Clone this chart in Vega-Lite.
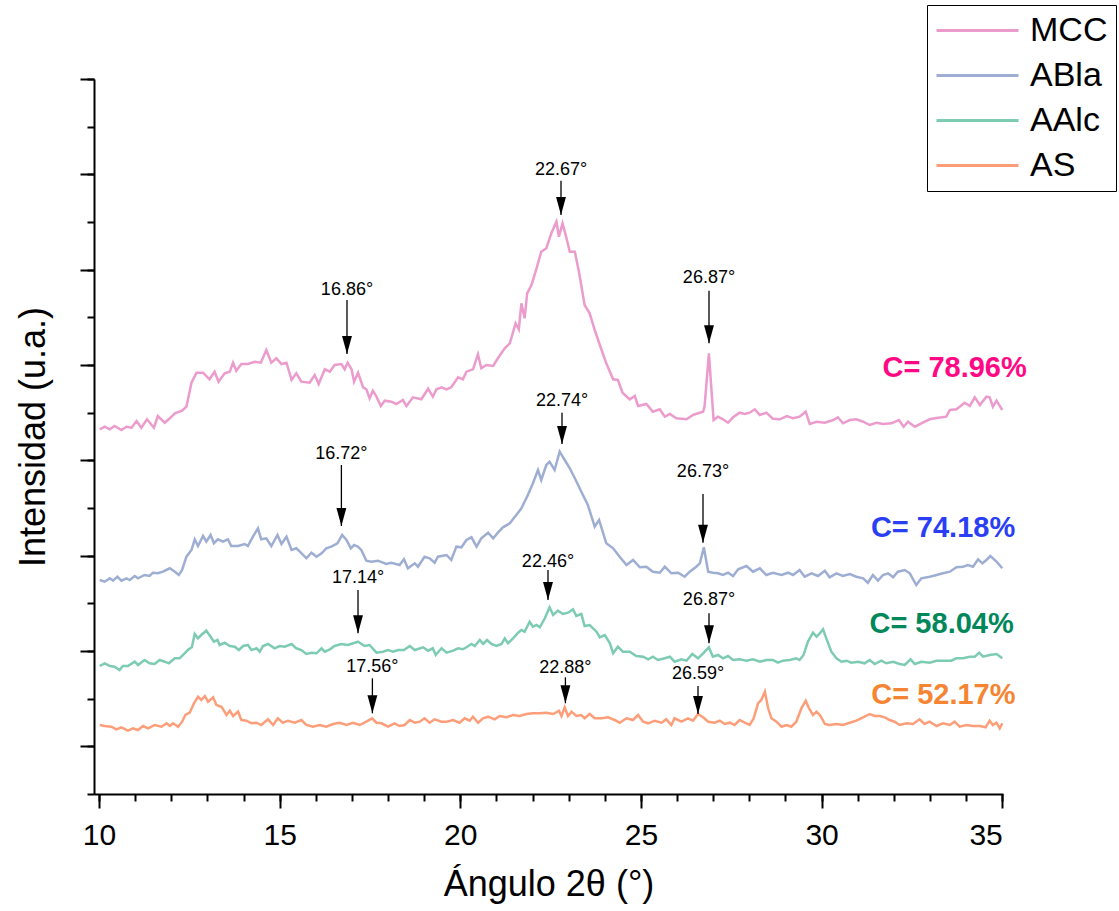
{
  "$schema": "https://vega.github.io/schema/vega-lite/v6.json",
  "width": 909,
  "height": 715,
  "autosize": {"type": "none"},
  "padding": {"left": 94, "top": 79, "right": 116, "bottom": 117},
  "config": {
    "view": {"stroke": null},
    "font": "Liberation Sans",
    "axis": {"grid": false, "domainColor": "black", "tickColor": "black", "labelColor": "black", "titleColor": "black", "labelFont": "Liberation Sans", "titleFont": "Liberation Sans"}
  },
  "datasets": {
    "lines": [
      {"s":"MCC","x":10.02,"y":364.7},{"s":"MCC","x":10.16,"y":367.3},{"s":"MCC","x":10.30,"y":364.7},{"s":"MCC","x":10.43,"y":368},{"s":"MCC","x":10.62,"y":364},{"s":"MCC","x":10.76,"y":367.3},{"s":"MCC","x":10.90,"y":366.3},{"s":"MCC","x":11.04,"y":373},{"s":"MCC","x":11.17,"y":366.3},{"s":"MCC","x":11.33,"y":374.7},{"s":"MCC","x":11.52,"y":366.3},{"s":"MCC","x":11.63,"y":378},{"s":"MCC","x":11.82,"y":371.3},{"s":"MCC","x":11.96,"y":375.7},{"s":"MCC","x":12.10,"y":380.7},{"s":"MCC","x":12.30,"y":383.3},{"s":"MCC","x":12.42,"y":387.3},{"s":"MCC","x":12.56,"y":411.3},{"s":"MCC","x":12.70,"y":421.3},{"s":"MCC","x":12.88,"y":421.3},{"s":"MCC","x":13.06,"y":414.7},{"s":"MCC","x":13.20,"y":422.3},{"s":"MCC","x":13.31,"y":412.3},{"s":"MCC","x":13.48,"y":420.7},{"s":"MCC","x":13.62,"y":422.3},{"s":"MCC","x":13.71,"y":431.3},{"s":"MCC","x":13.80,"y":423.3},{"s":"MCC","x":13.94,"y":430},{"s":"MCC","x":14.12,"y":430},{"s":"MCC","x":14.31,"y":432.3},{"s":"MCC","x":14.48,"y":431.3},{"s":"MCC","x":14.63,"y":444},{"s":"MCC","x":14.77,"y":431.3},{"s":"MCC","x":14.91,"y":435.7},{"s":"MCC","x":15.05,"y":430},{"s":"MCC","x":15.19,"y":431.3},{"s":"MCC","x":15.33,"y":414},{"s":"MCC","x":15.46,"y":420.7},{"s":"MCC","x":15.60,"y":412.3},{"s":"MCC","x":15.83,"y":411.3},{"s":"MCC","x":15.97,"y":419},{"s":"MCC","x":16.08,"y":410},{"s":"MCC","x":16.25,"y":424.7},{"s":"MCC","x":16.39,"y":422.3},{"s":"MCC","x":16.52,"y":429},{"s":"MCC","x":16.71,"y":430},{"s":"MCC","x":16.80,"y":424.7},{"s":"MCC","x":16.88,"y":431.3},{"s":"MCC","x":16.99,"y":424.7},{"s":"MCC","x":17.06,"y":412.3},{"s":"MCC","x":17.17,"y":421.3},{"s":"MCC","x":17.31,"y":406.7},{"s":"MCC","x":17.40,"y":404.7},{"s":"MCC","x":17.49,"y":395.7},{"s":"MCC","x":17.58,"y":403.3},{"s":"MCC","x":17.68,"y":397.3},{"s":"MCC","x":17.80,"y":388},{"s":"MCC","x":17.91,"y":393.3},{"s":"MCC","x":18.09,"y":392.3},{"s":"MCC","x":18.23,"y":390},{"s":"MCC","x":18.41,"y":394},{"s":"MCC","x":18.51,"y":388},{"s":"MCC","x":18.69,"y":396.7},{"s":"MCC","x":18.92,"y":394.7},{"s":"MCC","x":19.11,"y":405.3},{"s":"MCC","x":19.24,"y":397.3},{"s":"MCC","x":19.34,"y":404.7},{"s":"MCC","x":19.48,"y":406.7},{"s":"MCC","x":19.62,"y":404.7},{"s":"MCC","x":19.75,"y":406.7},{"s":"MCC","x":19.94,"y":416.7},{"s":"MCC","x":20.07,"y":414.7},{"s":"MCC","x":20.17,"y":422.3},{"s":"MCC","x":20.35,"y":424.7},{"s":"MCC","x":20.49,"y":439.7},{"s":"MCC","x":20.58,"y":425.7},{"s":"MCC","x":20.72,"y":429},{"s":"MCC","x":20.91,"y":428},{"s":"MCC","x":21.04,"y":435.7},{"s":"MCC","x":21.23,"y":445.7},{"s":"MCC","x":21.37,"y":450.7},{"s":"MCC","x":21.53,"y":470.7},{"s":"MCC","x":21.62,"y":464.7},{"s":"MCC","x":21.69,"y":490.7},{"s":"MCC","x":21.78,"y":475.7},{"s":"MCC","x":21.85,"y":500.7},{"s":"MCC","x":21.97,"y":509},{"s":"MCC","x":22.11,"y":525.7},{"s":"MCC","x":22.24,"y":542.3},{"s":"MCC","x":22.38,"y":545.7},{"s":"MCC","x":22.52,"y":560.7},{"s":"MCC","x":22.66,"y":572.3},{"s":"MCC","x":22.73,"y":557.3},{"s":"MCC","x":22.83,"y":570.7},{"s":"MCC","x":22.94,"y":555.7},{"s":"MCC","x":23.03,"y":542.3},{"s":"MCC","x":23.17,"y":542.3},{"s":"MCC","x":23.30,"y":519},{"s":"MCC","x":23.44,"y":489},{"s":"MCC","x":23.58,"y":480.7},{"s":"MCC","x":23.72,"y":464},{"s":"MCC","x":23.91,"y":444},{"s":"MCC","x":24.04,"y":430.7},{"s":"MCC","x":24.23,"y":414.7},{"s":"MCC","x":24.36,"y":414},{"s":"MCC","x":24.49,"y":401.3},{"s":"MCC","x":24.69,"y":394.7},{"s":"MCC","x":24.83,"y":398},{"s":"MCC","x":24.92,"y":388},{"s":"MCC","x":25.15,"y":390},{"s":"MCC","x":25.33,"y":382.3},{"s":"MCC","x":25.52,"y":384.7},{"s":"MCC","x":25.66,"y":377.3},{"s":"MCC","x":25.80,"y":380},{"s":"MCC","x":25.98,"y":375.7},{"s":"MCC","x":26.26,"y":374.7},{"s":"MCC","x":26.44,"y":379},{"s":"MCC","x":26.58,"y":380.7},{"s":"MCC","x":26.72,"y":382.3},{"s":"MCC","x":26.76,"y":387.3},{"s":"MCC","x":26.88,"y":440.7},{"s":"MCC","x":27.01,"y":374},{"s":"MCC","x":27.13,"y":377.3},{"s":"MCC","x":27.27,"y":374.7},{"s":"MCC","x":27.41,"y":371.3},{"s":"MCC","x":27.55,"y":376.7},{"s":"MCC","x":27.73,"y":381.3},{"s":"MCC","x":27.87,"y":380},{"s":"MCC","x":28.01,"y":381.3},{"s":"MCC","x":28.15,"y":384.7},{"s":"MCC","x":28.29,"y":379},{"s":"MCC","x":28.47,"y":381.3},{"s":"MCC","x":28.65,"y":375.3},{"s":"MCC","x":28.84,"y":374.7},{"s":"MCC","x":29.04,"y":378},{"s":"MCC","x":29.21,"y":375.7},{"s":"MCC","x":29.39,"y":377.3},{"s":"MCC","x":29.56,"y":382.3},{"s":"MCC","x":29.67,"y":370},{"s":"MCC","x":29.86,"y":372.3},{"s":"MCC","x":30.09,"y":371.3},{"s":"MCC","x":30.32,"y":374},{"s":"MCC","x":30.45,"y":376.7},{"s":"MCC","x":30.59,"y":370.7},{"s":"MCC","x":30.78,"y":374},{"s":"MCC","x":30.96,"y":374.7},{"s":"MCC","x":31.15,"y":372.3},{"s":"MCC","x":31.33,"y":369},{"s":"MCC","x":31.52,"y":371.3},{"s":"MCC","x":31.70,"y":370},{"s":"MCC","x":31.93,"y":370.7},{"s":"MCC","x":32.14,"y":374},{"s":"MCC","x":32.27,"y":367.3},{"s":"MCC","x":32.39,"y":372.3},{"s":"MCC","x":32.58,"y":367.3},{"s":"MCC","x":32.76,"y":370.7},{"s":"MCC","x":32.99,"y":374.7},{"s":"MCC","x":33.18,"y":376},{"s":"MCC","x":33.45,"y":377.3},{"s":"MCC","x":33.55,"y":384},{"s":"MCC","x":33.73,"y":384.7},{"s":"MCC","x":33.96,"y":391.3},{"s":"MCC","x":34.10,"y":388},{"s":"MCC","x":34.24,"y":396.7},{"s":"MCC","x":34.38,"y":389},{"s":"MCC","x":34.56,"y":397.3},{"s":"MCC","x":34.65,"y":396.7},{"s":"MCC","x":34.74,"y":387.3},{"s":"MCC","x":34.84,"y":393.3},{"s":"MCC","x":35.00,"y":384},
      {"s":"ABla","x":10.02,"y":214},{"s":"ABla","x":10.16,"y":212.3},{"s":"ABla","x":10.30,"y":215.7},{"s":"ABla","x":10.39,"y":213.3},{"s":"ABla","x":10.51,"y":217.3},{"s":"ABla","x":10.62,"y":213.3},{"s":"ABla","x":10.76,"y":215.7},{"s":"ABla","x":10.85,"y":214},{"s":"ABla","x":10.99,"y":218},{"s":"ABla","x":11.08,"y":215.7},{"s":"ABla","x":11.26,"y":219},{"s":"ABla","x":11.40,"y":218},{"s":"ABla","x":11.49,"y":221.3},{"s":"ABla","x":11.63,"y":220.7},{"s":"ABla","x":11.77,"y":222.3},{"s":"ABla","x":11.96,"y":225.7},{"s":"ABla","x":12.10,"y":222.3},{"s":"ABla","x":12.21,"y":219},{"s":"ABla","x":12.30,"y":224},{"s":"ABla","x":12.42,"y":237.3},{"s":"ABla","x":12.56,"y":244},{"s":"ABla","x":12.65,"y":254.7},{"s":"ABla","x":12.74,"y":248},{"s":"ABla","x":12.88,"y":258},{"s":"ABla","x":12.97,"y":252.3},{"s":"ABla","x":13.09,"y":259},{"s":"ABla","x":13.18,"y":250.7},{"s":"ABla","x":13.29,"y":254.7},{"s":"ABla","x":13.43,"y":252.3},{"s":"ABla","x":13.57,"y":254.7},{"s":"ABla","x":13.66,"y":248},{"s":"ABla","x":13.85,"y":248},{"s":"ABla","x":14.03,"y":250},{"s":"ABla","x":14.12,"y":248},{"s":"ABla","x":14.26,"y":257.3},{"s":"ABla","x":14.40,"y":265.7},{"s":"ABla","x":14.49,"y":254.7},{"s":"ABla","x":14.63,"y":255.7},{"s":"ABla","x":14.77,"y":248},{"s":"ABla","x":14.94,"y":259},{"s":"ABla","x":15.05,"y":250},{"s":"ABla","x":15.19,"y":257.3},{"s":"ABla","x":15.33,"y":244},{"s":"ABla","x":15.46,"y":245.7},{"s":"ABla","x":15.56,"y":242.3},{"s":"ABla","x":15.74,"y":235.7},{"s":"ABla","x":15.88,"y":241.3},{"s":"ABla","x":16.02,"y":237.3},{"s":"ABla","x":16.16,"y":240.7},{"s":"ABla","x":16.29,"y":245.7},{"s":"ABla","x":16.43,"y":247.3},{"s":"ABla","x":16.60,"y":250.7},{"s":"ABla","x":16.73,"y":259},{"s":"ABla","x":16.85,"y":254},{"s":"ABla","x":16.97,"y":245.7},{"s":"ABla","x":17.06,"y":249},{"s":"ABla","x":17.17,"y":247.3},{"s":"ABla","x":17.26,"y":244},{"s":"ABla","x":17.40,"y":233.3},{"s":"ABla","x":17.54,"y":232.3},{"s":"ABla","x":17.72,"y":233.3},{"s":"ABla","x":17.95,"y":230},{"s":"ABla","x":18.09,"y":231.3},{"s":"ABla","x":18.32,"y":229},{"s":"ABla","x":18.44,"y":234.7},{"s":"ABla","x":18.55,"y":225.7},{"s":"ABla","x":18.74,"y":230.7},{"s":"ABla","x":18.83,"y":227.3},{"s":"ABla","x":19.01,"y":237.3},{"s":"ABla","x":19.15,"y":235.7},{"s":"ABla","x":19.29,"y":231.3},{"s":"ABla","x":19.38,"y":237.3},{"s":"ABla","x":19.62,"y":239},{"s":"ABla","x":19.75,"y":234},{"s":"ABla","x":19.89,"y":247.3},{"s":"ABla","x":20.03,"y":246.7},{"s":"ABla","x":20.17,"y":254},{"s":"ABla","x":20.31,"y":256.7},{"s":"ABla","x":20.45,"y":247.3},{"s":"ABla","x":20.58,"y":255.7},{"s":"ABla","x":20.77,"y":261.3},{"s":"ABla","x":20.91,"y":255.7},{"s":"ABla","x":21.04,"y":261.3},{"s":"ABla","x":21.18,"y":266.7},{"s":"ABla","x":21.37,"y":270.7},{"s":"ABla","x":21.55,"y":279},{"s":"ABla","x":21.69,"y":285.7},{"s":"ABla","x":21.87,"y":299},{"s":"ABla","x":22.01,"y":310.7},{"s":"ABla","x":22.15,"y":324},{"s":"ABla","x":22.24,"y":314},{"s":"ABla","x":22.38,"y":329},{"s":"ABla","x":22.47,"y":332.3},{"s":"ABla","x":22.61,"y":324},{"s":"ABla","x":22.75,"y":342.3},{"s":"ABla","x":22.89,"y":334},{"s":"ABla","x":23.03,"y":325.7},{"s":"ABla","x":23.17,"y":315.7},{"s":"ABla","x":23.35,"y":302.3},{"s":"ABla","x":23.53,"y":289},{"s":"ABla","x":23.72,"y":267.3},{"s":"ABla","x":23.84,"y":274},{"s":"ABla","x":24.04,"y":250.7},{"s":"ABla","x":24.23,"y":245.7},{"s":"ABla","x":24.41,"y":237.3},{"s":"ABla","x":24.60,"y":229},{"s":"ABla","x":24.78,"y":234},{"s":"ABla","x":24.97,"y":226.7},{"s":"ABla","x":25.15,"y":227.3},{"s":"ABla","x":25.33,"y":222.3},{"s":"ABla","x":25.52,"y":221.3},{"s":"ABla","x":25.66,"y":227.3},{"s":"ABla","x":25.84,"y":220.7},{"s":"ABla","x":26.03,"y":221.3},{"s":"ABla","x":26.21,"y":217.3},{"s":"ABla","x":26.35,"y":222.3},{"s":"ABla","x":26.53,"y":227.3},{"s":"ABla","x":26.63,"y":230.7},{"s":"ABla","x":26.74,"y":246.7},{"s":"ABla","x":26.86,"y":222.3},{"s":"ABla","x":26.99,"y":221.3},{"s":"ABla","x":27.13,"y":220.7},{"s":"ABla","x":27.27,"y":219},{"s":"ABla","x":27.41,"y":221.3},{"s":"ABla","x":27.55,"y":218},{"s":"ABla","x":27.69,"y":224.7},{"s":"ABla","x":27.92,"y":228},{"s":"ABla","x":28.10,"y":222.3},{"s":"ABla","x":28.29,"y":225.7},{"s":"ABla","x":28.47,"y":219},{"s":"ABla","x":28.65,"y":221.3},{"s":"ABla","x":28.89,"y":219},{"s":"ABla","x":29.07,"y":221.3},{"s":"ABla","x":29.21,"y":219},{"s":"ABla","x":29.39,"y":224},{"s":"ABla","x":29.53,"y":217.3},{"s":"ABla","x":29.72,"y":220.7},{"s":"ABla","x":29.90,"y":218},{"s":"ABla","x":30.09,"y":223.3},{"s":"ABla","x":30.22,"y":216.7},{"s":"ABla","x":30.41,"y":220.7},{"s":"ABla","x":30.59,"y":218},{"s":"ABla","x":30.78,"y":220},{"s":"ABla","x":30.96,"y":217.3},{"s":"ABla","x":31.15,"y":215.7},{"s":"ABla","x":31.28,"y":211.3},{"s":"ABla","x":31.42,"y":219},{"s":"ABla","x":31.56,"y":213.3},{"s":"ABla","x":31.70,"y":219},{"s":"ABla","x":31.84,"y":220.7},{"s":"ABla","x":31.98,"y":216.7},{"s":"ABla","x":32.11,"y":222.3},{"s":"ABla","x":32.30,"y":224},{"s":"ABla","x":32.44,"y":220.7},{"s":"ABla","x":32.62,"y":209},{"s":"ABla","x":32.76,"y":215.7},{"s":"ABla","x":32.99,"y":217.3},{"s":"ABla","x":33.18,"y":219},{"s":"ABla","x":33.36,"y":220.7},{"s":"ABla","x":33.55,"y":222.3},{"s":"ABla","x":33.73,"y":226.7},{"s":"ABla","x":33.91,"y":227.3},{"s":"ABla","x":34.05,"y":229},{"s":"ABla","x":34.19,"y":227.3},{"s":"ABla","x":34.33,"y":234.7},{"s":"ABla","x":34.45,"y":230.7},{"s":"ABla","x":34.56,"y":234},{"s":"ABla","x":34.67,"y":238},{"s":"ABla","x":34.84,"y":232.3},{"s":"ABla","x":35.00,"y":225.7},
      {"s":"AAlc","x":10.02,"y":128},{"s":"AAlc","x":10.16,"y":130.7},{"s":"AAlc","x":10.30,"y":128},{"s":"AAlc","x":10.43,"y":127.3},{"s":"AAlc","x":10.57,"y":124},{"s":"AAlc","x":10.66,"y":128},{"s":"AAlc","x":10.80,"y":128},{"s":"AAlc","x":10.99,"y":132.3},{"s":"AAlc","x":11.08,"y":129},{"s":"AAlc","x":11.26,"y":134},{"s":"AAlc","x":11.40,"y":130.7},{"s":"AAlc","x":11.54,"y":130},{"s":"AAlc","x":11.68,"y":134},{"s":"AAlc","x":11.82,"y":132.3},{"s":"AAlc","x":11.93,"y":130.7},{"s":"AAlc","x":12.10,"y":135.7},{"s":"AAlc","x":12.23,"y":135.7},{"s":"AAlc","x":12.37,"y":140.7},{"s":"AAlc","x":12.48,"y":144.7},{"s":"AAlc","x":12.57,"y":146.7},{"s":"AAlc","x":12.65,"y":160},{"s":"AAlc","x":12.74,"y":155.7},{"s":"AAlc","x":12.83,"y":159},{"s":"AAlc","x":12.97,"y":163.3},{"s":"AAlc","x":13.09,"y":157.3},{"s":"AAlc","x":13.18,"y":152.3},{"s":"AAlc","x":13.28,"y":154},{"s":"AAlc","x":13.34,"y":149},{"s":"AAlc","x":13.48,"y":151.3},{"s":"AAlc","x":13.62,"y":148},{"s":"AAlc","x":13.76,"y":147.3},{"s":"AAlc","x":13.87,"y":144},{"s":"AAlc","x":13.99,"y":148},{"s":"AAlc","x":14.12,"y":149},{"s":"AAlc","x":14.22,"y":144},{"s":"AAlc","x":14.36,"y":145.7},{"s":"AAlc","x":14.45,"y":142.3},{"s":"AAlc","x":14.54,"y":148},{"s":"AAlc","x":14.68,"y":150},{"s":"AAlc","x":14.86,"y":145.7},{"s":"AAlc","x":15.00,"y":148},{"s":"AAlc","x":15.14,"y":147.3},{"s":"AAlc","x":15.33,"y":150},{"s":"AAlc","x":15.46,"y":145.7},{"s":"AAlc","x":15.60,"y":144},{"s":"AAlc","x":15.74,"y":140},{"s":"AAlc","x":15.88,"y":141.3},{"s":"AAlc","x":16.02,"y":140.7},{"s":"AAlc","x":16.16,"y":145.7},{"s":"AAlc","x":16.25,"y":142.3},{"s":"AAlc","x":16.39,"y":144.7},{"s":"AAlc","x":16.52,"y":148},{"s":"AAlc","x":16.71,"y":150},{"s":"AAlc","x":16.89,"y":149},{"s":"AAlc","x":17.17,"y":152.3},{"s":"AAlc","x":17.35,"y":148},{"s":"AAlc","x":17.49,"y":149},{"s":"AAlc","x":17.68,"y":141.3},{"s":"AAlc","x":17.86,"y":142.3},{"s":"AAlc","x":18.00,"y":144},{"s":"AAlc","x":18.14,"y":142.3},{"s":"AAlc","x":18.28,"y":144},{"s":"AAlc","x":18.44,"y":144},{"s":"AAlc","x":18.60,"y":148},{"s":"AAlc","x":18.74,"y":144},{"s":"AAlc","x":18.97,"y":146.7},{"s":"AAlc","x":19.11,"y":143.3},{"s":"AAlc","x":19.24,"y":145.7},{"s":"AAlc","x":19.32,"y":139},{"s":"AAlc","x":19.48,"y":145.7},{"s":"AAlc","x":19.62,"y":141.3},{"s":"AAlc","x":19.80,"y":143.3},{"s":"AAlc","x":19.94,"y":145.7},{"s":"AAlc","x":20.07,"y":144.7},{"s":"AAlc","x":20.17,"y":146.7},{"s":"AAlc","x":20.31,"y":150},{"s":"AAlc","x":20.40,"y":148},{"s":"AAlc","x":20.54,"y":154},{"s":"AAlc","x":20.63,"y":150},{"s":"AAlc","x":20.74,"y":154},{"s":"AAlc","x":20.86,"y":150},{"s":"AAlc","x":21.00,"y":148},{"s":"AAlc","x":21.14,"y":150},{"s":"AAlc","x":21.23,"y":155.7},{"s":"AAlc","x":21.32,"y":150.7},{"s":"AAlc","x":21.46,"y":155.7},{"s":"AAlc","x":21.60,"y":161.3},{"s":"AAlc","x":21.69,"y":164},{"s":"AAlc","x":21.78,"y":162.3},{"s":"AAlc","x":21.92,"y":172.3},{"s":"AAlc","x":22.01,"y":167.3},{"s":"AAlc","x":22.11,"y":169},{"s":"AAlc","x":22.20,"y":166.7},{"s":"AAlc","x":22.34,"y":175.7},{"s":"AAlc","x":22.47,"y":186.7},{"s":"AAlc","x":22.57,"y":179},{"s":"AAlc","x":22.70,"y":183.3},{"s":"AAlc","x":22.84,"y":180},{"s":"AAlc","x":22.98,"y":181.3},{"s":"AAlc","x":23.12,"y":184.7},{"s":"AAlc","x":23.21,"y":178},{"s":"AAlc","x":23.35,"y":180},{"s":"AAlc","x":23.44,"y":168},{"s":"AAlc","x":23.58,"y":169},{"s":"AAlc","x":23.77,"y":162.3},{"s":"AAlc","x":23.86,"y":156.7},{"s":"AAlc","x":24.00,"y":159},{"s":"AAlc","x":24.14,"y":150.7},{"s":"AAlc","x":24.23,"y":140.7},{"s":"AAlc","x":24.36,"y":147.3},{"s":"AAlc","x":24.50,"y":142.3},{"s":"AAlc","x":24.69,"y":142.3},{"s":"AAlc","x":24.87,"y":138},{"s":"AAlc","x":25.06,"y":137.3},{"s":"AAlc","x":25.20,"y":134.7},{"s":"AAlc","x":25.33,"y":137.3},{"s":"AAlc","x":25.47,"y":134},{"s":"AAlc","x":25.66,"y":135.7},{"s":"AAlc","x":25.80,"y":137.3},{"s":"AAlc","x":25.93,"y":132.3},{"s":"AAlc","x":26.12,"y":134.7},{"s":"AAlc","x":26.26,"y":133.3},{"s":"AAlc","x":26.42,"y":140},{"s":"AAlc","x":26.58,"y":135.7},{"s":"AAlc","x":26.72,"y":140.7},{"s":"AAlc","x":26.88,"y":146.7},{"s":"AAlc","x":26.99,"y":137.3},{"s":"AAlc","x":27.13,"y":139},{"s":"AAlc","x":27.27,"y":135.7},{"s":"AAlc","x":27.41,"y":138},{"s":"AAlc","x":27.55,"y":134},{"s":"AAlc","x":27.73,"y":134.7},{"s":"AAlc","x":27.92,"y":133.3},{"s":"AAlc","x":28.10,"y":134.7},{"s":"AAlc","x":28.29,"y":132.3},{"s":"AAlc","x":28.47,"y":134},{"s":"AAlc","x":28.65,"y":134},{"s":"AAlc","x":28.79,"y":131.3},{"s":"AAlc","x":28.93,"y":133.3},{"s":"AAlc","x":29.12,"y":134},{"s":"AAlc","x":29.30,"y":135.7},{"s":"AAlc","x":29.39,"y":134},{"s":"AAlc","x":29.50,"y":139},{"s":"AAlc","x":29.62,"y":152.3},{"s":"AAlc","x":29.76,"y":161.3},{"s":"AAlc","x":29.86,"y":157.3},{"s":"AAlc","x":29.95,"y":160.7},{"s":"AAlc","x":30.04,"y":164.7},{"s":"AAlc","x":30.13,"y":155.7},{"s":"AAlc","x":30.27,"y":142.3},{"s":"AAlc","x":30.41,"y":135.7},{"s":"AAlc","x":30.55,"y":132.3},{"s":"AAlc","x":30.69,"y":133.3},{"s":"AAlc","x":30.82,"y":131.3},{"s":"AAlc","x":31.01,"y":132.3},{"s":"AAlc","x":31.19,"y":130.7},{"s":"AAlc","x":31.33,"y":134},{"s":"AAlc","x":31.47,"y":130},{"s":"AAlc","x":31.65,"y":133.3},{"s":"AAlc","x":31.79,"y":130.7},{"s":"AAlc","x":31.98,"y":132.3},{"s":"AAlc","x":32.16,"y":130},{"s":"AAlc","x":32.30,"y":129},{"s":"AAlc","x":32.46,"y":134.7},{"s":"AAlc","x":32.58,"y":130},{"s":"AAlc","x":32.76,"y":132.3},{"s":"AAlc","x":32.99,"y":131.3},{"s":"AAlc","x":33.18,"y":133.3},{"s":"AAlc","x":33.41,"y":133.3},{"s":"AAlc","x":33.59,"y":133.3},{"s":"AAlc","x":33.73,"y":135.7},{"s":"AAlc","x":33.91,"y":135.7},{"s":"AAlc","x":34.10,"y":137.3},{"s":"AAlc","x":34.24,"y":137.3},{"s":"AAlc","x":34.36,"y":141.3},{"s":"AAlc","x":34.47,"y":137.3},{"s":"AAlc","x":34.65,"y":139},{"s":"AAlc","x":34.84,"y":140},{"s":"AAlc","x":35.00,"y":135.7},
      {"s":"AS","x":10.02,"y":69},{"s":"AS","x":10.16,"y":68},{"s":"AS","x":10.34,"y":67.3},{"s":"AS","x":10.48,"y":64.7},{"s":"AS","x":10.62,"y":66.7},{"s":"AS","x":10.80,"y":63.3},{"s":"AS","x":10.94,"y":65.7},{"s":"AS","x":11.08,"y":64},{"s":"AS","x":11.22,"y":68},{"s":"AS","x":11.36,"y":65.7},{"s":"AS","x":11.54,"y":69},{"s":"AS","x":11.73,"y":67.3},{"s":"AS","x":11.87,"y":70.7},{"s":"AS","x":11.96,"y":68},{"s":"AS","x":12.05,"y":70.7},{"s":"AS","x":12.19,"y":67.3},{"s":"AS","x":12.30,"y":72.3},{"s":"AS","x":12.39,"y":79},{"s":"AS","x":12.51,"y":81.3},{"s":"AS","x":12.63,"y":90.7},{"s":"AS","x":12.74,"y":97.3},{"s":"AS","x":12.83,"y":94},{"s":"AS","x":12.93,"y":98},{"s":"AS","x":13.02,"y":92.3},{"s":"AS","x":13.16,"y":96.7},{"s":"AS","x":13.25,"y":89},{"s":"AS","x":13.39,"y":87.3},{"s":"AS","x":13.53,"y":79},{"s":"AS","x":13.62,"y":83.3},{"s":"AS","x":13.71,"y":78},{"s":"AS","x":13.85,"y":82.3},{"s":"AS","x":13.94,"y":74},{"s":"AS","x":14.08,"y":73.3},{"s":"AS","x":14.22,"y":70.7},{"s":"AS","x":14.36,"y":71.3},{"s":"AS","x":14.49,"y":69},{"s":"AS","x":14.68,"y":74.7},{"s":"AS","x":14.82,"y":69},{"s":"AS","x":14.95,"y":75.7},{"s":"AS","x":15.09,"y":71.3},{"s":"AS","x":15.23,"y":73.3},{"s":"AS","x":15.42,"y":71.3},{"s":"AS","x":15.60,"y":74},{"s":"AS","x":15.74,"y":69},{"s":"AS","x":15.92,"y":67.3},{"s":"AS","x":16.11,"y":69},{"s":"AS","x":16.29,"y":67.3},{"s":"AS","x":16.48,"y":70},{"s":"AS","x":16.66,"y":71.3},{"s":"AS","x":16.85,"y":69},{"s":"AS","x":17.03,"y":71.3},{"s":"AS","x":17.22,"y":69},{"s":"AS","x":17.40,"y":72.3},{"s":"AS","x":17.56,"y":75.7},{"s":"AS","x":17.68,"y":71.3},{"s":"AS","x":17.82,"y":70.7},{"s":"AS","x":18.00,"y":67.3},{"s":"AS","x":18.18,"y":70.7},{"s":"AS","x":18.32,"y":68},{"s":"AS","x":18.46,"y":69},{"s":"AS","x":18.60,"y":74},{"s":"AS","x":18.74,"y":71.3},{"s":"AS","x":18.88,"y":72.3},{"s":"AS","x":19.01,"y":75.7},{"s":"AS","x":19.15,"y":71.3},{"s":"AS","x":19.29,"y":74.7},{"s":"AS","x":19.48,"y":72.3},{"s":"AS","x":19.62,"y":72.3},{"s":"AS","x":19.80,"y":74},{"s":"AS","x":19.98,"y":71.3},{"s":"AS","x":20.12,"y":75.7},{"s":"AS","x":20.26,"y":73.3},{"s":"AS","x":20.35,"y":77.3},{"s":"AS","x":20.49,"y":71.3},{"s":"AS","x":20.63,"y":75.7},{"s":"AS","x":20.77,"y":77.3},{"s":"AS","x":20.95,"y":74.7},{"s":"AS","x":21.09,"y":78},{"s":"AS","x":21.28,"y":76.7},{"s":"AS","x":21.46,"y":79},{"s":"AS","x":21.64,"y":78},{"s":"AS","x":21.83,"y":80},{"s":"AS","x":22.01,"y":80.7},{"s":"AS","x":22.20,"y":80.7},{"s":"AS","x":22.38,"y":81.3},{"s":"AS","x":22.57,"y":80},{"s":"AS","x":22.73,"y":83.3},{"s":"AS","x":22.80,"y":78},{"s":"AS","x":22.89,"y":86.7},{"s":"AS","x":22.98,"y":78},{"s":"AS","x":23.08,"y":82.3},{"s":"AS","x":23.21,"y":78},{"s":"AS","x":23.35,"y":79},{"s":"AS","x":23.44,"y":75.7},{"s":"AS","x":23.58,"y":80},{"s":"AS","x":23.72,"y":75.7},{"s":"AS","x":23.91,"y":75.7},{"s":"AS","x":24.09,"y":76.7},{"s":"AS","x":24.27,"y":74},{"s":"AS","x":24.41,"y":71.3},{"s":"AS","x":24.60,"y":75.7},{"s":"AS","x":24.78,"y":74},{"s":"AS","x":24.92,"y":79},{"s":"AS","x":25.06,"y":72.3},{"s":"AS","x":25.20,"y":70.7},{"s":"AS","x":25.38,"y":73.3},{"s":"AS","x":25.57,"y":71.3},{"s":"AS","x":25.70,"y":74.7},{"s":"AS","x":25.84,"y":69},{"s":"AS","x":25.93,"y":75.7},{"s":"AS","x":26.12,"y":72.3},{"s":"AS","x":26.30,"y":75.7},{"s":"AS","x":26.44,"y":73.3},{"s":"AS","x":26.58,"y":80},{"s":"AS","x":26.72,"y":76.7},{"s":"AS","x":26.86,"y":72.3},{"s":"AS","x":27.04,"y":71.3},{"s":"AS","x":27.18,"y":73.3},{"s":"AS","x":27.32,"y":70},{"s":"AS","x":27.46,"y":71.3},{"s":"AS","x":27.59,"y":69},{"s":"AS","x":27.73,"y":74},{"s":"AS","x":27.87,"y":71.3},{"s":"AS","x":28.01,"y":69},{"s":"AS","x":28.12,"y":75.7},{"s":"AS","x":28.24,"y":90.7},{"s":"AS","x":28.33,"y":94},{"s":"AS","x":28.43,"y":102.3},{"s":"AS","x":28.52,"y":85.7},{"s":"AS","x":28.61,"y":75.7},{"s":"AS","x":28.75,"y":72.3},{"s":"AS","x":28.89,"y":67.3},{"s":"AS","x":29.03,"y":69},{"s":"AS","x":29.16,"y":67.3},{"s":"AS","x":29.30,"y":72.3},{"s":"AS","x":29.44,"y":85.7},{"s":"AS","x":29.56,"y":93.3},{"s":"AS","x":29.65,"y":85.7},{"s":"AS","x":29.76,"y":79},{"s":"AS","x":29.86,"y":82.3},{"s":"AS","x":29.97,"y":78},{"s":"AS","x":30.09,"y":70},{"s":"AS","x":30.22,"y":69},{"s":"AS","x":30.41,"y":70},{"s":"AS","x":30.59,"y":69},{"s":"AS","x":30.78,"y":71.3},{"s":"AS","x":30.96,"y":73.3},{"s":"AS","x":31.15,"y":76.7},{"s":"AS","x":31.33,"y":80},{"s":"AS","x":31.47,"y":78},{"s":"AS","x":31.61,"y":78},{"s":"AS","x":31.75,"y":76.7},{"s":"AS","x":31.88,"y":74},{"s":"AS","x":32.02,"y":72.3},{"s":"AS","x":32.16,"y":69},{"s":"AS","x":32.35,"y":70.7},{"s":"AS","x":32.53,"y":70},{"s":"AS","x":32.71,"y":74.7},{"s":"AS","x":32.85,"y":70},{"s":"AS","x":32.99,"y":72.3},{"s":"AS","x":33.18,"y":68},{"s":"AS","x":33.36,"y":70.7},{"s":"AS","x":33.55,"y":69},{"s":"AS","x":33.68,"y":72.3},{"s":"AS","x":33.82,"y":67.3},{"s":"AS","x":34.01,"y":69},{"s":"AS","x":34.19,"y":68},{"s":"AS","x":34.38,"y":68},{"s":"AS","x":34.54,"y":66.7},{"s":"AS","x":34.65,"y":73.3},{"s":"AS","x":34.74,"y":69},{"s":"AS","x":34.84,"y":71.3},{"s":"AS","x":34.93,"y":65.7},{"s":"AS","x":35.00,"y":70.7}
    ],
    "ann": [
      {"x":16.864,"tip":440,"top":494,"ly":504,"t":"16.86°"},
      {"x":22.787,"tip":579,"top":613.3,"ly":624.3,"t":"22.67°"},
      {"x":26.883,"tip":450.7,"top":503.3,"ly":516,"t":"26.87°"},
      {"x":16.709,"tip":268,"top":329,"ly":340.3,"t":"16.72°"},
      {"x":22.815,"tip":350,"top":381.3,"ly":392.8,"t":"22.74°"},
      {"x":26.717,"tip":251.3,"top":300,"ly":322.3,"t":"26.73°"},
      {"x":17.169,"tip":160.7,"top":204,"ly":216,"t":"17.14°"},
      {"x":22.427,"tip":194,"top":224,"ly":232.3,"t":"22.46°"},
      {"x":26.883,"tip":150.7,"top":180.7,"ly":193.7,"t":"26.87°"},
      {"x":17.567,"tip":80.7,"top":115.7,"ly":127,"t":"17.56°"},
      {"x":22.909,"tip":90.7,"top":116.7,"ly":125.7,"t":"22.88°"},
      {"x":26.579,"tip":80,"top":108,"ly":120,"t":"26.59°"}
    ],
    "clab": [
      {"x":33.68,"y":425.7,"t":"C= 78.96%"},
      {"x":33.36,"y":265.7,"t":"C= 74.18%"},
      {"x":33.32,"y":170,"t":"C= 58.04%"},
      {"x":33.37,"y":99,"t":"C= 52.17%"}
    ]
  },
  "layer": [
    {
      "data": {"name": "lines"},
      "mark": {"type": "line", "strokeWidth": 2.5, "opacity": 0.85},
      "encoding": {
        "x": {"field": "x", "type": "quantitative", "scale": {"domain": [9.862, 35.02], "nice": false, "zero": false},
              "axis": {"orient": "bottom", "values": [10,11,12,13,14,15,16,17,18,19,20,21,22,23,24,25,26,27,28,29,30,31,32,33,34,35], "tickSize": 7, "tickWidth": 2, "domainWidth": 2, "labels": false, "title": null}},
        "y": {"field": "y", "type": "quantitative", "scale": {"domain": [0, 715], "nice": false, "zero": false},
              "axis": {"orient": "left", "values": [0,47.667,95.333,143,190.667,238.333,286,333.667,381.333,429,476.667,524.333,572,619.667,667.333,715], "tickSize": 7, "tickWidth": 2, "domainWidth": 2, "labels": false, "title": null}},
        "color": {"field": "s", "type": "nominal",
                  "scale": {"domain": ["MCC", "ABla", "AAlc", "AS"], "range": ["#e78ac3", "#8da0cb", "#66c2a5", "#fc8d62"]},
                  "legend": {"orient": "none", "legendX": 833, "legendY": -74, "title": null, "symbolType": "stroke", "symbolSize": 6724, "symbolStrokeWidth": 3, "symbolOpacity": 0.85, "labelFontSize": 34, "labelFont": "Liberation Sans", "labelColor": "black", "labelOffset": 10, "clipHeight": 35, "rowPadding": 10, "padding": 8, "strokeColor": "black", "fillColor": "white"}}
      }
    },
    {
      "data": {"name": "ann"},
      "mark": {"type": "rule", "color": "black", "strokeWidth": 1.3},
      "encoding": {
        "x": {"field": "x", "type": "quantitative",
              "axis": {"orient": "bottom", "values": [10,15,20,25,30,35], "tickSize": 14, "tickWidth": 2, "domain": false, "labelFontSize": 30, "labelPadding": 12, "title": "Ángulo 2θ (°)", "titleFontSize": 36, "titleFontWeight": "normal", "titlePadding": 17}},
        "y": {"field": "top", "type": "quantitative",
              "axis": {"orient": "left", "values": [47.667,143,238.333,333.667,429,524.333,619.667,715], "tickSize": 14, "tickWidth": 2, "domain": false, "labels": false, "title": "Intensidad (u.a.)", "titleFontSize": 36, "titleFontWeight": "normal", "titlePadding": 27}},
        "y2": {"field": "tip"}
      }
    },
    {
      "data": {"name": "ann"},
      "mark": {"type": "point", "shape": "M-0.55,-2L0.55,-2L0,0Z", "size": 324, "filled": true, "color": "black", "opacity": 1, "strokeWidth": 0},
      "encoding": {
        "x": {"field": "x", "type": "quantitative", "axis": null},
        "y": {"field": "tip", "type": "quantitative", "axis": null}
      }
    },
    {
      "data": {"name": "ann"},
      "mark": {"type": "text", "fontSize": 18, "font": "Liberation Sans", "color": "black", "baseline": "middle", "align": "center"},
      "encoding": {
        "x": {"field": "x", "type": "quantitative", "axis": null},
        "y": {"field": "ly", "type": "quantitative", "axis": null},
        "text": {"field": "t"}
      }
    },
    {
      "data": {"name": "clab"},
      "mark": {"type": "text", "fontSize": 29, "fontWeight": "bold", "font": "Liberation Sans", "baseline": "middle", "align": "center"},
      "encoding": {
        "x": {"field": "x", "type": "quantitative", "axis": null},
        "y": {"field": "y", "type": "quantitative", "axis": null},
        "text": {"field": "t"},
        "color": {"field": "t", "type": "nominal", "legend": null,
                  "scale": {"domain": ["C= 78.96%", "C= 74.18%", "C= 58.04%", "C= 52.17%"], "range": ["#ff0a84", "#2a3ff5", "#00875a", "#f58532"]}}
      }
    }
  ],
  "resolve": {"scale": {"color": "independent"}, "axis": {"x": "independent", "y": "independent"}}
}
